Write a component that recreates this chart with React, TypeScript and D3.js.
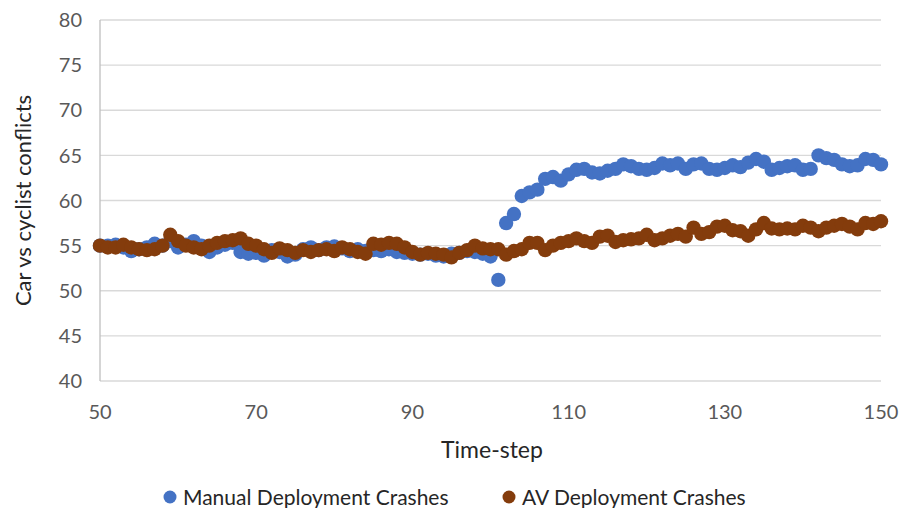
import { useEffect, useRef } from "react";
import * as d3 from "d3";

const steps = d3.range(50, 151);

const manualCrashes = [
  55, 55, 55.1, 54.8, 54.4, 54.6, 54.8, 55.2, 55, 55.5,
  54.8, 55.1, 55.5, 55, 54.3, 54.8, 55.1, 55.3, 54.3, 54.1,
  54.2, 53.9, 54.5, 54.3, 53.8, 54, 54.6, 54.8, 54.5, 54.8,
  54.9, 54.7, 54.4, 54.6, 54.4, 54.5, 54.4, 54.6, 54.3, 54.2,
  54.1, 54, 54.1, 53.9, 53.8, 54.1, 54.2, 54.4, 54.3, 54.1,
  53.8, 51.2, 57.5, 58.5, 60.5, 60.9, 61.2, 62.4, 62.6, 62.2,
  62.9, 63.4, 63.5, 63.1, 63, 63.3, 63.5, 64, 63.8, 63.5,
  63.4, 63.6, 64.1, 63.9, 64.1, 63.5, 64, 64.1, 63.5, 63.4,
  63.6, 63.9, 63.7, 64.2, 64.6, 64.3, 63.4, 63.6, 63.8, 63.9,
  63.4, 63.5, 65, 64.7, 64.5, 64, 63.8, 63.9, 64.6, 64.5,
  64,
];

const avCrashes = [
  55, 54.8, 54.8, 55.1, 54.8, 54.6, 54.5, 54.6, 55, 56.2,
  55.5, 55, 54.8, 54.6, 55, 55.3, 55.5, 55.6, 55.8, 55.2,
  55, 54.6, 54.2, 54.7, 54.5, 54.2, 54.5, 54.3, 54.5, 54.6,
  54.4, 54.8, 54.6, 54.3, 54.1, 55.2, 55.1, 55.3, 55.2, 54.8,
  54.3, 54, 54.2, 54.1, 54, 53.7, 54.2, 54.5, 55, 54.7,
  54.6, 54.6, 54, 54.4, 54.6, 55.3, 55.3, 54.5, 55, 55.3,
  55.5, 55.8, 55.5, 55.3, 56, 56.1, 55.4, 55.6, 55.7, 55.8,
  56.2, 55.6, 55.8, 56.1, 56.3, 56, 57, 56.3, 56.5, 57.1,
  57.2, 56.7, 56.6, 56.1, 56.8, 57.5, 56.9, 56.8, 56.9, 56.8,
  57.2, 57, 56.6, 57, 57.2, 57.4, 57.1, 56.8, 57.5, 57.4,
  57.7,
];

const xTicks = [50, 70, 90, 110, 130, 150];
const yTicks = [40, 45, 50, 55, 60, 65, 70, 75, 80];

const seriesNames = ["Manual Deployment Crashes", "AV Deployment Crashes"];
const seriesColors = ["#4472C4", "#843C0C"];

export default function App() {
  const ref = useRef<SVGSVGElement>(null);

  useEffect(() => {
    const svg = d3.select(ref.current);
    svg.selectAll("*").remove();

    const font = "Lato, 'Open Sans', sans-serif";
    const x = d3.scaleLinear().domain([50, 150]).range([100, 881]);
    const y = d3.scaleLinear().domain([40, 80]).range([381, 20]);

    // gridlines
    svg.append("g")
      .selectAll("line")
      .data(yTicks)
      .join("line")
      .attr("x1", x(50))
      .attr("x2", x(150))
      .attr("y1", d => y(d))
      .attr("y2", d => y(d))
      .attr("stroke", "#d9d9d9")
      .attr("stroke-width", 1.3);

    // left axis line
    svg.append("line")
      .attr("x1", x(50))
      .attr("x2", x(50))
      .attr("y1", y(80))
      .attr("y2", y(40))
      .attr("stroke", "#bfbfbf")
      .attr("stroke-width", 1.3);

    // tick labels
    svg.append("g")
      .selectAll("text")
      .data(yTicks)
      .join("text")
      .attr("x", 82)
      .attr("y", d => y(d))
      .attr("dy", "0.36em")
      .attr("text-anchor", "end")
      .attr("font-family", font)
      .attr("font-size", 20)
      .attr("fill", "#595959")
      .text(d => d);

    svg.append("g")
      .selectAll("text")
      .data(xTicks)
      .join("text")
      .attr("x", d => x(d))
      .attr("y", 419)
      .attr("text-anchor", "middle")
      .attr("font-family", font)
      .attr("font-size", 20)
      .attr("fill", "#595959")
      .text(d => d);

    // axis titles
    svg.append("text")
      .attr("transform", `translate(31, ${y(60)}) rotate(-90)`)
      .attr("text-anchor", "middle")
      .attr("font-family", font)
      .attr("font-size", 22)
      .attr("fill", "#262626")
      .text("Car vs cyclist conflicts");

    svg.append("text")
      .attr("x", 492)
      .attr("y", 458)
      .attr("text-anchor", "middle")
      .attr("font-family", font)
      .attr("font-size", 23)
      .attr("fill", "#262626")
      .text("Time-step");

    // points
    [manualCrashes, avCrashes].forEach((vals, i) => {
      svg.append("g")
        .selectAll("circle")
        .data(steps.map((s, j) => [s, vals[j]]))
        .join("circle")
        .attr("cx", d => x(d[0]))
        .attr("cy", d => y(d[1]))
        .attr("r", 7.2)
        .attr("fill", seriesColors[i]);
    });

    // legend
    const legendX = [170, 509];
    seriesNames.forEach((name, i) => {
      const g = svg.append("g").attr("transform", `translate(${legendX[i]}, 497)`);
      g.append("circle").attr("r", 6.5).attr("fill", seriesColors[i]);
      g.append("text")
        .attr("x", 13)
        .attr("dy", "0.36em")
        .attr("font-family", font)
        .attr("font-size", 21)
        .attr("fill", "#262626")
        .text(name);
    });
  }, []);

  return (
    <svg
      ref={ref}
      width={901}
      height={508}
      style={{ position: "absolute", left: 0, top: 0, background: "#fff" }}
    />
  );
}
